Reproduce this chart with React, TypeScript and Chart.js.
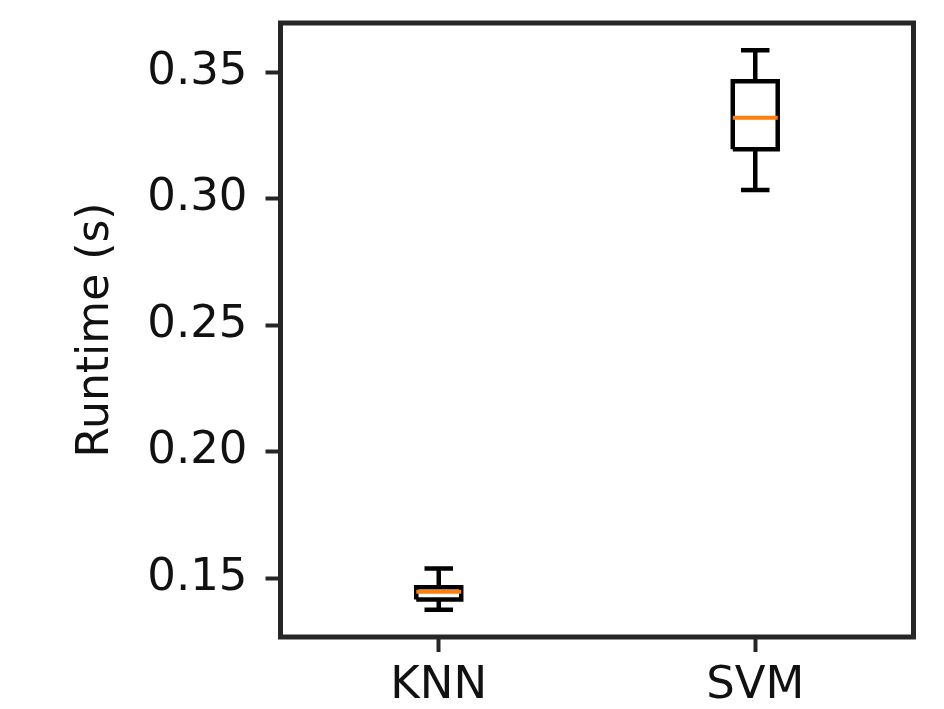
import React, { useEffect, useRef } from "react";
import { Chart, registerables } from "chart.js";

Chart.register(...registerables);

// ---- data ----
const categories = ["KNN", "SVM"];
const positions = [1, 2];
const whiskerLow = [0.1375, 0.3035];
const q1 = [0.1415, 0.3196];
const median = [0.1446, 0.332];
const q3 = [0.1464, 0.3465];
const whiskerHigh = [0.1538, 0.3587];
const yTicks = [0.15, 0.2, 0.25, 0.3, 0.35];
const yMin = 0.1267;
const yMax = 0.3695;
const xMin = 0.5;
const xMax = 2.5;
const yTitle = "Runtime (s)";

const boxWidth = 0.142;
const capWidth = 0.09;

const INK = "#262626";
const FONT = "'DejaVu Sans', sans-serif";

type P = { x: number; y: number | null };

function buildBoxes(): P[] {
  const pts: P[] = [];
  positions.forEach((p, i) => {
    const l = p - boxWidth / 2;
    const r = p + boxWidth / 2;
    pts.push({ x: l, y: q1[i] }, { x: r, y: q1[i] }, { x: r, y: q3[i] }, { x: l, y: q3[i] }, { x: l, y: q1[i] });
    pts.push({ x: p + 0.3, y: null });
  });
  return pts;
}

function buildWhiskers(): P[] {
  const pts: P[] = [];
  positions.forEach((p, i) => {
    const cl = p - capWidth / 2;
    const cr = p + capWidth / 2;
    pts.push({ x: p, y: q1[i] }, { x: p, y: whiskerLow[i] }, { x: p + 0.01, y: null });
    pts.push({ x: cl, y: whiskerLow[i] }, { x: cr, y: whiskerLow[i] }, { x: p + 0.02, y: null });
    pts.push({ x: p, y: q3[i] }, { x: p, y: whiskerHigh[i] }, { x: p + 0.03, y: null });
    pts.push({ x: cl, y: whiskerHigh[i] }, { x: cr, y: whiskerHigh[i] }, { x: p + 0.04, y: null });
  });
  return pts;
}

function buildMedians(): P[] {
  const pts: P[] = [];
  positions.forEach((p, i) => {
    pts.push({ x: p - boxWidth / 2, y: median[i] }, { x: p + boxWidth / 2, y: median[i] }, { x: p + 0.3, y: null });
  });
  return pts;
}

const framePlugin = {
  id: "frame",
  afterDatasetsDraw(chart: any) {
    const { ctx, chartArea } = chart;
    ctx.save();
    ctx.strokeStyle = INK;
    ctx.lineWidth = 5;
    ctx.lineJoin = "miter";
    ctx.strokeRect(chartArea.left, chartArea.top, chartArea.right - chartArea.left, chartArea.bottom - chartArea.top);
    ctx.restore();
  },
};

export default function App() {
  const ref = useRef<HTMLCanvasElement | null>(null);

  useEffect(() => {
    if (!ref.current) return;
    const chart = new Chart(ref.current, {
      type: "line",
      data: {
        datasets: [
          {
            label: "median",
            data: buildMedians() as any,
            borderColor: "#ff7f0e",
            borderWidth: 4,
            pointRadius: 0,
            spanGaps: false,
            borderCapStyle: "butt",
          },
          {
            label: "box",
            data: buildBoxes() as any,
            borderColor: "#000000",
            borderWidth: 4.5,
            pointRadius: 0,
            spanGaps: false,
            borderJoinStyle: "miter",
          },
          {
            label: "whiskers",
            data: buildWhiskers() as any,
            borderColor: "#000000",
            borderWidth: 4.5,
            pointRadius: 0,
            spanGaps: false,
            borderCapStyle: "butt",
          },
        ],
      },
      options: {
        responsive: false,
        animation: false,
        events: [],
        layout: { padding: { left: 0, top: 23, right: 30.5, bottom: 0 } },
        plugins: { legend: { display: false }, tooltip: { enabled: false } },
        scales: {
          x: {
            type: "linear",
            min: xMin,
            max: xMax,
            afterBuildTicks: (scale: any) => {
              scale.ticks = positions.map((v) => ({ value: v }));
            },
            afterFit: (scale: any) => {
              scale.height = 72;
              scale.paddingLeft = 0;
              scale.paddingRight = 0;
            },
            grid: {
              drawOnChartArea: false,
              drawTicks: true,
              tickLength: 15,
              tickWidth: 4,
              tickColor: INK,
            },
            border: { display: false },
            ticks: {
              autoSkip: false,
              maxRotation: 0,
              padding: 7,
              color: "#111",
              font: { family: FONT, size: 45 },
              callback: (v: any) => {
                const idx = positions.indexOf(Number(v));
                return idx >= 0 ? categories[idx] : "";
              },
            },
          },
          y: {
            type: "linear",
            min: yMin,
            max: yMax,
            afterBuildTicks: (scale: any) => {
              scale.ticks = yTicks.map((v) => ({ value: v }));
            },
            afterFit: (scale: any) => {
              scale.width = 280.5;
              scale.paddingTop = 0;
              scale.paddingBottom = 0;
            },
            grid: {
              drawOnChartArea: false,
              drawTicks: true,
              tickLength: 15,
              tickWidth: 4,
              tickColor: INK,
            },
            border: { display: false },
            ticks: {
              padding: 18,
              color: "#111",
              font: { family: FONT, size: 45 },
              callback: (v: any) => Number(v).toFixed(2),
            },
            title: {
              display: true,
              text: yTitle,
              color: "#111",
              font: { family: FONT, size: 44 },
              padding: { top: 70, bottom: 0 },
            },
          },
        },
      },
      plugins: [framePlugin],
    });
    return () => chart.destroy();
  }, []);

  return (
    <div style={{ position: "fixed", left: 0, top: 0, width: 944, height: 709, background: "#fff" }}>
      <canvas ref={ref} width={944} height={709} style={{ display: "block" }} />
    </div>
  );
}
